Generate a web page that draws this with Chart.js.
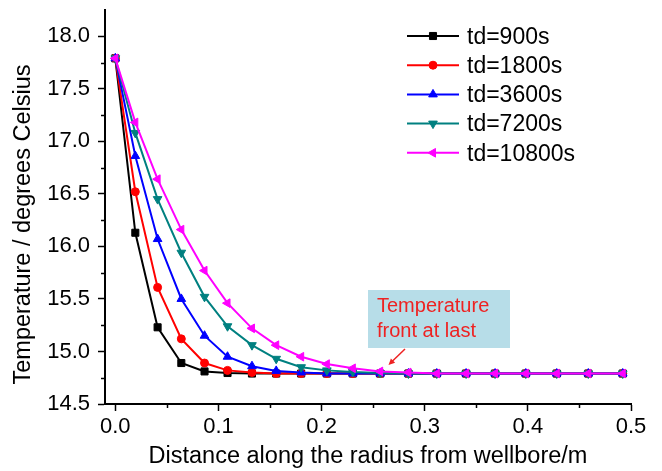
<!DOCTYPE html>
<html><head><meta charset="utf-8">
<script src="https://cdn.jsdelivr.net/npm/chart.js@4/dist/chart.umd.min.js"></script>
<style>html,body{margin:0;padding:0;background:#fff}#wrap{width:662px;height:471px}</style>
</head><body><div id="wrap"><canvas id="c" width="662" height="471"></canvas></div>
<script>
// ---- data ----
const radius = [0, 0.0194, 0.0410, 0.0640, 0.0865, 0.1088, 0.1325, 0.1560, 0.1802, 0.2051, 0.2303, 0.2568, 0.2842, 0.3117, 0.3401, 0.3682, 0.3980, 0.4280, 0.4586, 0.4920];
const seriesLabels = ['td=900s', 'td=1800s', 'td=3600s', 'td=7200s', 'td=10800s'];
const td900   = [17.79, 16.13, 15.23, 14.89, 14.81, 14.795, 14.79, 14.79, 14.79, 14.79, 14.79, 14.79, 14.79, 14.79, 14.79, 14.79, 14.79, 14.79, 14.79, 14.79];
const td1800  = [17.79, 16.52, 15.61, 15.12, 14.89, 14.82, 14.80, 14.79, 14.79, 14.79, 14.79, 14.79, 14.79, 14.79, 14.79, 14.79, 14.79, 14.79, 14.79, 14.79];
const td3600  = [17.79, 16.86, 16.07, 15.50, 15.15, 14.95, 14.86, 14.815, 14.80, 14.79, 14.79, 14.79, 14.79, 14.79, 14.79, 14.79, 14.79, 14.79, 14.79, 14.79];
const td7200  = [17.79, 17.08, 16.45, 15.94, 15.52, 15.24, 15.06, 14.93, 14.85, 14.82, 14.805, 14.795, 14.79, 14.79, 14.79, 14.79, 14.79, 14.79, 14.79, 14.79];
const td10800 = [17.79, 17.18, 16.64, 16.16, 15.77, 15.46, 15.22, 15.06, 14.95, 14.88, 14.84, 14.81, 14.80, 14.79, 14.79, 14.79, 14.79, 14.79, 14.79, 14.79];
const xTicks = [0.0, 0.1, 0.2, 0.3, 0.4, 0.5];
const yTicks = [14.5, 15.0, 15.5, 16.0, 16.5, 17.0, 17.5, 18.0];
const xTitle = 'Distance along the radius from wellbore/m';
const yTitle = 'Temperature / degrees Celsius';
const noteLines = ['Temperature', 'front at last'];

// ---- styles ----
const FONT = "'Liberation Sans', Arial, sans-serif";
const styles = [
  {color: '#000000', pointStyle: 'rect', rotation: 0, radius: 5},
  {color: '#ff0000', pointStyle: 'circle', rotation: 0, radius: 4},
  {color: '#0000ff', pointStyle: 'triangle', rotation: 0, radius: 5},
  {color: '#008080', pointStyle: 'triangle', rotation: 180, radius: 5},
  {color: '#ff00ff', pointStyle: 'triangle', rotation: -90, radius: 5}
];
const seriesValues = [td900, td1800, td3600, td7200, td10800];

const datasets = seriesValues.map((vals, i) => ({
  label: seriesLabels[i],
  data: radius.map((r, k) => ({x: r, y: vals[k]})),
  borderColor: styles[i].color,
  backgroundColor: styles[i].color,
  pointBackgroundColor: styles[i].color,
  pointBorderColor: styles[i].color,
  pointStyle: styles[i].pointStyle,
  pointRotation: styles[i].rotation,
  pointRadius: styles[i].radius,
  pointBorderWidth: 1,
  borderWidth: 2,
  tension: 0,
  order: seriesValues.length - 1 - i
}));

const mid = arr => arr.slice(0, -1).map((v, i) => (v + arr[i + 1]) / 2);

const extras = {
  id: 'extras',
  afterDraw(chart) {
    const ctx = chart.ctx;
    const xs = chart.scales.x, ys = chart.scales.y;
    const ca = chart.chartArea;
    ctx.save();
    // minor ticks
    ctx.strokeStyle = '#000'; ctx.lineWidth = 1.5;
    mid(xTicks).forEach(v => {
      const p = Math.round(xs.getPixelForValue(v)) + 0.5;
      ctx.beginPath(); ctx.moveTo(p, ca.bottom); ctx.lineTo(p, ca.bottom + 4); ctx.stroke();
    });
    mid(yTicks).forEach(v => {
      const p = Math.round(ys.getPixelForValue(v)) + 0.5;
      ctx.beginPath(); ctx.moveTo(ca.left, p); ctx.lineTo(ca.left - 4, p); ctx.stroke();
    });
    // y axis title
    ctx.save();
    ctx.translate(24, 224.5);
    ctx.rotate(-Math.PI / 2);
    ctx.fillStyle = '#000';
    ctx.font = '23.5px ' + FONT;
    ctx.textAlign = 'center'; ctx.textBaseline = 'middle';
    ctx.fillText(yTitle, 0, 0);
    ctx.restore();
    // legend
    const lx0 = 407, lx1 = 459, tx = 467, ly0 = 36, dy = 29.2;
    chart.data.datasets.forEach((ds, i) => {
      const y = ly0 + i * dy;
      ctx.strokeStyle = ds.borderColor; ctx.lineWidth = 2;
      ctx.beginPath(); ctx.moveTo(lx0, y); ctx.lineTo(lx1, y); ctx.stroke();
      ctx.fillStyle = ds.borderColor; ctx.strokeStyle = ds.borderColor; ctx.lineWidth = 1;
      Chart.helpers.drawPoint(ctx, {pointStyle: ds.pointStyle, rotation: ds.pointRotation, radius: ds.pointRadius, borderWidth: 1}, (lx0 + lx1) / 2, y);
      ctx.fillStyle = '#000';
      ctx.font = '23px ' + FONT;
      ctx.textBaseline = 'middle'; ctx.textAlign = 'left';
      ctx.fillText(ds.label, tx, y + 1.5);
    });
    // annotation box
    const bx = 368, by = 290, bw = 142, bh = 58;
    ctx.fillStyle = '#b7dde8';
    ctx.fillRect(bx, by, bw, bh);
    ctx.fillStyle = '#ee2222';
    ctx.font = '20px ' + FONT;
    ctx.textBaseline = 'alphabetic';
    ctx.fillText(noteLines[0], bx + 9, 312);
    ctx.fillText(noteLines[1], bx + 9, 337);
    // arrow
    const ax0 = 405, ay0 = 349, ax1 = 388.5, ay1 = 365;
    ctx.strokeStyle = '#ee2222'; ctx.lineWidth = 1.5;
    ctx.beginPath(); ctx.moveTo(ax0, ay0); ctx.lineTo(ax1 + 3, ay1 - 3); ctx.stroke();
    const ang = Math.atan2(ay1 - ay0, ax1 - ax0);
    ctx.fillStyle = '#ee2222';
    ctx.beginPath();
    ctx.moveTo(ax1, ay1);
    ctx.lineTo(ax1 - 7 * Math.cos(ang - 0.45), ay1 - 7 * Math.sin(ang - 0.45));
    ctx.lineTo(ax1 - 7 * Math.cos(ang + 0.45), ay1 - 7 * Math.sin(ang + 0.45));
    ctx.closePath(); ctx.fill();
    ctx.restore();
  }
};

new Chart(document.getElementById('c'), {
  type: 'line',
  data: {datasets},
  plugins: [extras],
  options: {
    responsive: false,
    animation: false,
    devicePixelRatio: 1,
    layout: {padding: {top: 10, right: 31, left: 0, bottom: 0}},
    plugins: {legend: {display: false}, tooltip: {enabled: false}},
    scales: {
      x: {
        type: 'linear', min: -0.01, max: 0.5,
        afterBuildTicks: s => { s.ticks = xTicks.map(v => ({value: v})); },
        afterFit: s => { s.height = 67; s.paddingLeft = 0; s.paddingRight = 0; },
        ticks: {color: '#000', font: {family: FONT, size: 22}, padding: 3, maxRotation: 0, callback: v => Number(v).toFixed(1)},
        grid: {drawOnChartArea: false, drawTicks: true, tickLength: 7, tickColor: '#000', tickWidth: 1.5},
        border: {display: true, color: '#000', width: 2},
        title: {display: true, text: xTitle, color: '#000', font: {family: FONT, size: 23.5}, padding: {top: 0, bottom: 0}}
      },
      y: {
        type: 'linear', min: 14.5, max: 18.25,
        afterBuildTicks: s => { s.ticks = yTicks.map(v => ({value: v})); },
        afterFit: s => { s.width = 105; s.paddingTop = 0; s.paddingBottom = 0; },
        ticks: {color: '#000', font: {family: FONT, size: 22}, padding: 8, callback: v => Number(v).toFixed(1)},
        grid: {drawOnChartArea: false, drawTicks: true, tickLength: 7, tickColor: '#000', tickWidth: 1.5},
        border: {display: true, color: '#000', width: 2},
        title: {display: false, text: yTitle}
      }
    }
  }
});
</script></body></html>
